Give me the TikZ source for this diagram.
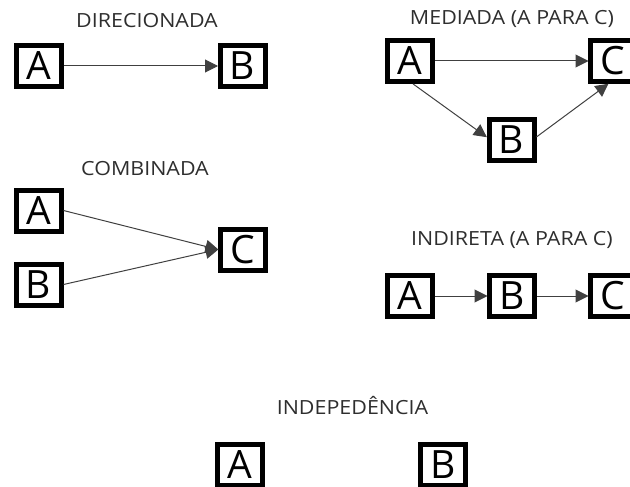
\documentclass[tikz,border=0pt]{standalone}
\usepackage{fontspec}
\setmainfont{Open Sans}
\newfontfamily\capfont[FakeStretch=1.1]{Open Sans}
\usetikzlibrary{arrows.meta}
\begin{document}
\begin{tikzpicture}[x=1pt,y=-1pt,
  var/.style={draw=black,line width=5pt,fill=white,minimum width=45pt,minimum height=41pt,
    inner sep=0pt,font=\fontsize{39}{39}\selectfont,text=black},
  caption/.style={font=\capfont\fontsize{19.5}{21}\selectfont,text=black!82},
  link/.style={draw=black!75,line width=1pt,-{Triangle[length=13pt,width=13pt]},shorten >=-0.5pt}]
\useasboundingbox (0,0) rectangle (630,487);

% direct effect
\node[caption] (t1) at (147,21) {DIRECIONADA};
\node[var] (a1) at (38.5,66) {A};
\node[var] (b1) at (242.5,66) {B};
\draw[link] (a1) -- (b1);

% mediated effect
\node[caption] (t2) at (512,19) {MEDIADA (A PARA C)};
\node[var] (a2) at (409.5,61) {A};
\node[var] (c2) at (613,61) {C};
\node[var] (b2) at (511.5,140) {B};
\draw[link] (a2) -- (c2);
\draw[link] (a2.-81) -- (b2.173);
\draw[link] (b2.7) -- (c2.-102);

% combined effect
\node[caption] (t3) at (145,169) {COMBINADA};
\node[var] (a3) at (38.5,210.5) {A};
\node[var] (b3) at (38.5,284.5) {B};
\node[var] (c3) at (243,249.5) {C};
\draw[link] (a3.east) -- (c3.west);
\draw[link] (b3.east) -- (c3.west);

% indirect effect
\node[caption] (t4) at (512,240) {INDIRETA (A PARA C)};
\node[var] (a4) at (409.5,296) {A};
\node[var] (b4) at (512,296) {B};
\node[var] (c4) at (613,296) {C};
\draw[link] (a4) -- (b4);
\draw[link] (b4) -- (c4);

% independence
\node[caption] (t5) at (352.5,406) {INDEPEDÊNCIA};
\node[var] (a5) at (239.5,464.5) {A};
\node[var] (b5) at (443,464.5) {B};
\end{tikzpicture}
\end{document}
